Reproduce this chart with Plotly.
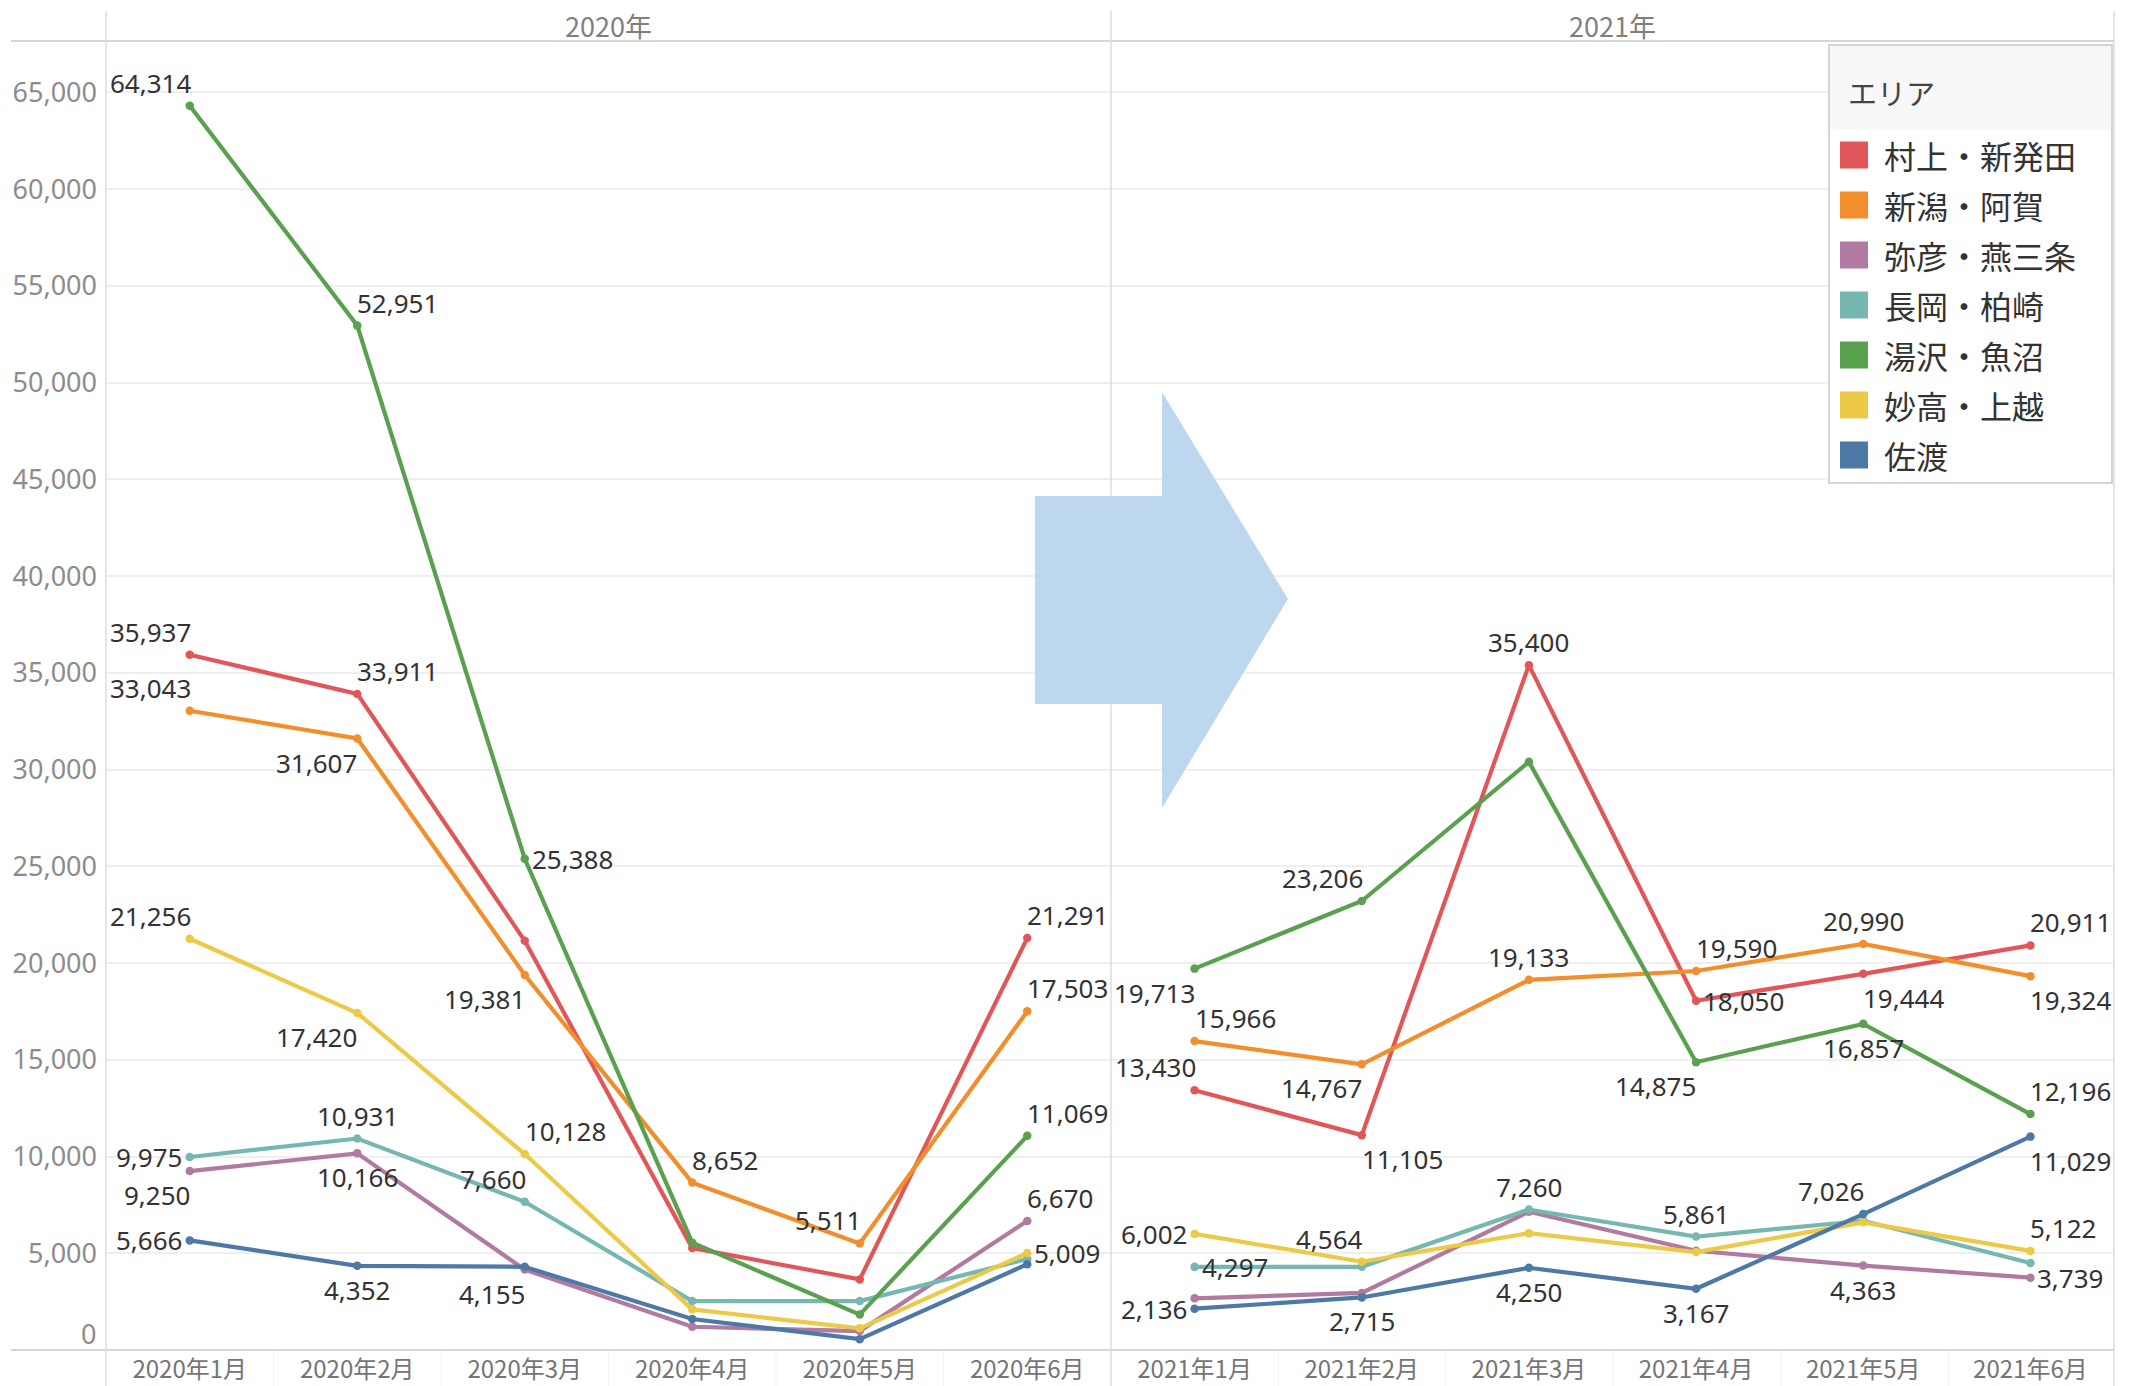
import plotly.graph_objects as go

W, H = 2130, 1386

# ---------------- data ----------------
YEARS = ["2020年", "2021年"]
MONTHS_2020 = ["2020年1月", "2020年2月", "2020年3月", "2020年4月", "2020年5月", "2020年6月"]
MONTHS_2021 = ["2021年1月", "2021年2月", "2021年3月", "2021年4月", "2021年5月", "2021年6月"]
AREAS = ["村上・新発田", "新潟・阿賀", "弥彦・燕三条", "長岡・柏崎", "湯沢・魚沼", "妙高・上越", "佐渡"]
COLORS = ["#e15759", "#f28e2b", "#b07aa1", "#76b7b2", "#59a14f", "#edc948", "#4e79a7"]

MURAKAMI_2020 = [35937, 33911, 21150, 5270, 3650, 21291]
MURAKAMI_2021 = [13430, 11105, 35400, 18050, 19444, 20911]
NIIGATA_2020 = [33043, 31607, 19381, 8652, 5511, 17503]
NIIGATA_2021 = [15966, 14767, 19133, 19590, 20990, 19324]
YAHIKO_2020 = [9250, 10166, 4155, 1200, 980, 6670]
YAHIKO_2021 = [2670, 2950, 7150, 5130, 4363, 3739]
NAGAOKA_2020 = [9975, 10931, 7660, 2530, 2530, 4700]
NAGAOKA_2021 = [4297, 4300, 7260, 5861, 6680, 4500]
YUZAWA_2020 = [64314, 52951, 25388, 5550, 1830, 11069]
YUZAWA_2021 = [19713, 23206, 30400, 14875, 16857, 12196]
MYOKO_2020 = [21256, 17420, 10128, 2100, 1120, 5009]
MYOKO_2021 = [6002, 4564, 6040, 5060, 6600, 5122]
SADO_2020 = [5666, 4352, 4300, 1600, 560, 4430]
SADO_2021 = [2136, 2715, 4250, 3167, 7026, 11029]

VALUES_2020 = [MURAKAMI_2020, NIIGATA_2020, YAHIKO_2020, NAGAOKA_2020, YUZAWA_2020, MYOKO_2020, SADO_2020]
VALUES_2021 = [MURAKAMI_2021, NIIGATA_2021, YAHIKO_2021, NAGAOKA_2021, YUZAWA_2021, MYOKO_2021, SADO_2021]

Y_TICKS = [5000, 10000, 15000, 20000, 25000, 30000, 35000, 40000, 45000, 50000, 55000, 60000, 65000]
Y_MAX = 67660

# label placement per area (2020, 2021); None = no label
LABEL_POS = {
    "村上・新発田": (["ul", "ur", None, None, None, "ur"], ["ul", "dr", "u", "r", "dr", "ur"]),
    "新潟・阿賀": (["ul", "dl", "dl", "ur", "ul", "ur"], ["ur", "dl", "u", "ur", "u", "dr"]),
    "弥彦・燕三条": (["dl", "d", "dl", None, None, "ur"], [None, None, None, None, "d", "r"]),
    "長岡・柏崎": (["l", "u", "ul", None, None, None], ["r", None, "u", "u", None, None]),
    "湯沢・魚沼": (["ul", "ur", "r", None, None, "ur"], ["dl", "ul", None, "dl", "d", "ur"]),
    "妙高・上越": (["ul", "dl", "ur", None, None, "r"], ["l", "ul", None, None, None, "ur"]),
    "佐渡": (["l", "d", None, None, None, None], ["l", "d", "d", "d", "ul", "dr"]),
}
OFFS = {
    "ul": ("right", 3, 23), "ur": ("left", -2, 23),
    "dl": ("right", 2, -24), "dr": ("left", -2, -24),
    "u": ("center", 0, 23), "d": ("center", 0, -24),
    "l": ("right", -6, 0), "r": ("left", 5, 0),
}

# ---------------- geometry helpers ----------------
def px(x):
    return x / W

def py(y):
    return 1 - y / H

LEFT, MID, RIGHT = 106, 1111, 2114
TOP, BOTTOM = 41, 1350

JP = "Noto Sans CJK JP"
NUM = "Noto Sans, Noto Sans CJK JP"

fig = go.Figure()

for i, area in enumerate(AREAS):
    for xs, vals, xa in ((MONTHS_2020, VALUES_2020[i], "x"), (MONTHS_2021, VALUES_2021[i], "x2")):
        fig.add_trace(go.Scatter(
            x=xs, y=vals, xaxis=xa, yaxis="y", mode="lines+markers",
            line=dict(color=COLORS[i], width=4.2), marker=dict(size=8.5, color=COLORS[i]),
            name=area, showlegend=False, hoverinfo="skip", cliponaxis=False,
        ))

annotations = []
for i, area in enumerate(AREAS):
    for yi, (xs, vals, xa) in enumerate(((MONTHS_2020, VALUES_2020[i], "x"), (MONTHS_2021, VALUES_2021[i], "x2"))):
        for k, pos in enumerate(LABEL_POS[area][yi]):
            if pos is None:
                continue
            xanc, xs_, ys_ = OFFS[pos]
            annotations.append(dict(
                x=xs[k], y=vals[k], xref=xa, yref="y", text=f"{vals[k]:,}", showarrow=False,
                xanchor=xanc, yanchor="middle", xshift=xs_, yshift=ys_,
                font=dict(family=NUM, size=26, color="#333333"),
            ))

# panel headers
for xa, year in (("x domain", YEARS[0]), ("x2 domain", YEARS[1])):
    annotations.append(dict(x=0.5, y=py(26), xref=xa, yref="paper", text=year, showarrow=False,
                            xanchor="center", yanchor="middle",
                            font=dict(family=JP, size=27, color="#7f7f7f")))

# zero tick label (Tableau lifts it above the baseline)
annotations.append(dict(x=px(98), y=0, xref="paper", yref="y", text="0", showarrow=False,
                        xanchor="right", yanchor="middle", yshift=17,
                        font=dict(family=NUM, size=27, color="#8c8c8c")))

shapes = []
LC = "#d6d6d6"
# header bottom & axis baseline
shapes.append(dict(type="line", xref="paper", yref="paper", x0=px(11), x1=px(RIGHT), y0=py(TOP), y1=py(TOP),
                   line=dict(color=LC, width=2), layer="above"))
shapes.append(dict(type="line", xref="paper", yref="paper", x0=px(11), x1=px(RIGHT), y0=py(BOTTOM), y1=py(BOTTOM),
                   line=dict(color=LC, width=2), layer="above"))
# vertical panel borders
for xv in (LEFT, MID, RIGHT):
    shapes.append(dict(type="line", xref="paper", yref="paper", x0=px(xv), x1=px(xv), y0=py(11), y1=py(H),
                       line=dict(color="#dcdcdc", width=1.5), layer="above"))
# faint category separators in the axis band
band = (MID - LEFT) / 6
for start in (LEFT, MID):
    for k in range(1, 6):
        xv = start + band * k
        shapes.append(dict(type="line", xref="paper", yref="paper", x0=px(xv), x1=px(xv), y0=py(BOTTOM), y1=py(H),
                           line=dict(color="#f2f2f2", width=1), layer="below"))

# block arrow
arrow_pts = [(1035, 496), (1162, 496), (1162, 392), (1288, 599), (1162, 808), (1162, 704), (1035, 704)]
path = "M " + " L ".join(f"{px(x):.5f},{py(y):.5f}" for x, y in arrow_pts) + " Z"
shapes.append(dict(type="path", path=path, xref="paper", yref="paper",
                   fillcolor="#bdd7ee", line=dict(width=0), layer="above"))

# legend box
LX0, LX1, LY0, LY1 = 1829, 2112, 45, 483
shapes.append(dict(type="rect", xref="paper", yref="paper", x0=px(LX0), x1=px(LX1), y0=py(LY1), y1=py(LY0),
                   fillcolor="white", line=dict(color="#d4d4d4", width=2), layer="above"))
shapes.append(dict(type="rect", xref="paper", yref="paper", x0=px(LX0 + 1), x1=px(LX1 - 1), y0=py(130), y1=py(LY0 + 1),
                   fillcolor="#f8f8f8", line=dict(width=0), layer="above"))
annotations.append(dict(x=px(1846), y=py(92), xref="paper", yref="paper", text="エリア", showarrow=False,
                        xanchor="left", yanchor="middle", font=dict(family=JP, size=29, color="#444444")))
for i, area in enumerate(AREAS):
    cy = 155 + 50 * i
    shapes.append(dict(type="rect", xref="paper", yref="paper", x0=px(1840), x1=px(1868),
                       y0=py(cy + 13.5), y1=py(cy - 13.5), fillcolor=COLORS[i], line=dict(width=0), layer="above"))
    annotations.append(dict(x=px(1882), y=py(cy), xref="paper", yref="paper", text=area, showarrow=False,
                            xanchor="left", yanchor="middle", font=dict(family=JP, size=32, color="#333333")))

xaxis_common = dict(showgrid=False, zeroline=False, showline=False, ticks="", range=[-0.5, 5.5],
                    type="category", tickfont=dict(family=JP, size=24, color="#757575"),
                    ticklabelstandoff=3, fixedrange=True, automargin=False)

fig.update_layout(
    width=W, height=H, margin=dict(l=0, r=0, t=0, b=0, autoexpand=False),
    paper_bgcolor="white", plot_bgcolor="white",
    xaxis=dict(domain=[px(LEFT), px(MID)], anchor="y", **xaxis_common),
    xaxis2=dict(domain=[px(MID), px(RIGHT)], anchor="y", **xaxis_common),
    yaxis=dict(domain=[py(BOTTOM), py(TOP)], range=[0, Y_MAX], tickvals=Y_TICKS,
               ticktext=[f"{v:,}" for v in Y_TICKS], showgrid=True, gridcolor="#efefef", gridwidth=1.5,
               zeroline=False, showline=False, ticks="", ticklabelstandoff=8, automargin=False,
               tickfont=dict(family=NUM, size=27, color="#8c8c8c"), fixedrange=True),
    shapes=shapes, annotations=annotations, showlegend=False,
)

fig.write_html("out.html", config={"displayModeBar": False},
               post_script="document.body.style.margin='0';document.body.style.overflow='hidden';")
